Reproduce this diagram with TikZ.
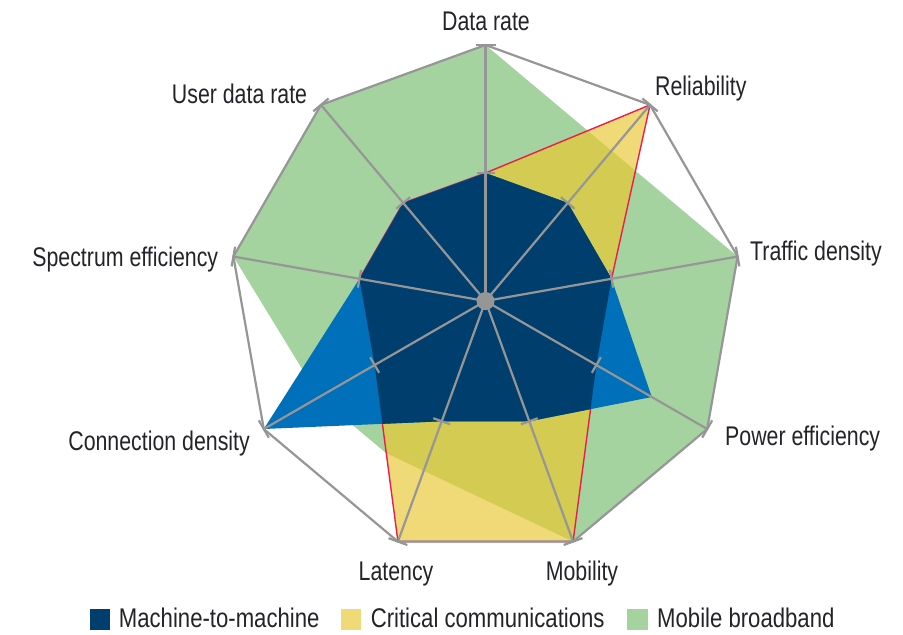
\documentclass[tikz,border=0pt]{standalone}
\usepackage{fontspec}
\setmainfont{Liberation Sans}[FakeStretch=0.79]
\newfontfamily\legfont{Liberation Sans}[FakeStretch=0.82]
\usetikzlibrary{calc}
\definecolor{mbgreen}{RGB}{165,211,160}
\definecolor{ccyellow}{RGB}{240,218,120}
\definecolor{mixolive}{RGB}{212,204,82}
\definecolor{mmnavy}{RGB}{0,62,110}
\definecolor{mmblue}{RGB}{0,112,186}
\definecolor{ccred}{RGB}{232,30,80}
\definecolor{axgray}{RGB}{150,150,150}
\definecolor{txtcol}{RGB}{35,35,40}
\begin{document}
\begin{tikzpicture}[x=1pt,y=-1pt,
  axisline/.style={draw=axgray, line width=2.2pt},
  lbl/.style={inner sep=0pt, text=txtcol, font=\fontsize{27}{32}\selectfont},
  legtext/.style={inner sep=0pt, text=txtcol, font=\legfont\fontsize{27}{32}\selectfont},
  legbox/.style={inner sep=0pt, minimum width=20.3pt, minimum height=21pt}]
\path[use as bounding box] (0,0) rectangle (903,635);
\coordinate (C) at (485.5,301);
\foreach \k/\n in {0/dr,1/rel,2/td,3/pe,4/mob,5/lat,6/cd,7/se,8/udr}{
  \coordinate (\n1) at ($(C)+({40*\k-90}:256)$);
  \coordinate (\n5) at ($(C)+({40*\k-90}:128)$);
}
\coordinate (pe75) at ($(C)+(30:192)$);
\coordinate (cdg) at ($(C)+(150:192)$);
\coordinate (gk) at (386,453);
\def\yellowpath{(dr5) -- (rel1) -- (td5) -- (pe5) -- (mob1) -- (lat1) -- (cd5) -- (se5) -- (udr5) -- cycle}
\def\greenpath{(dr1) -- (td1) -- (pe1) -- (mob1) -- (gk) -- (cdg) -- (se1) -- (udr1) -- cycle}
\def\mmpath{(dr5) -- (rel5) -- (td5) -- (pe75) -- (mob5) -- (lat5) -- (cd1) -- (se5) -- (udr5) -- cycle}
% Mobile broadband
\fill[mbgreen] \greenpath;
% Critical communications
\fill[ccyellow] \yellowpath;
\begin{scope}
  \clip \greenpath;
  \fill[mixolive] \yellowpath;
\end{scope}
\draw[ccred, line width=1.4pt, line join=round] \yellowpath;
% Machine-to-machine
\fill[mmblue] \mmpath;
\begin{scope}
  \clip \yellowpath;
  \fill[mmnavy] \mmpath;
\end{scope}
% frame and axes
\draw[axisline, line join=round] (dr1) -- (rel1) -- (td1) -- (pe1) -- (mob1) -- (lat1) -- (cd1) -- (se1) -- (udr1) -- cycle;
\foreach \n in {dr,rel,td,pe,mob,lat,cd,se,udr}{
  \draw[axisline] (C) -- (\n1);
}
\foreach \k in {0,...,8}{
  \draw[axisline] ($(C)+({40*\k-90}:128)+({40*\k}:9)$) -- ($(C)+({40*\k-90}:128)+({40*\k-180}:9)$);
  \draw[axisline] ($(C)+({40*\k-90}:256)+({40*\k}:10)$) -- ($(C)+({40*\k-90}:256)+({40*\k-180}:10)$);
}
\fill[axgray] (C) circle (9pt);
% labels
\node[lbl, anchor=base] (ldr) at (486,30) {Data rate};
\node[lbl, anchor=base west] (lrel) at (655,95) {Reliability};
\node[lbl, anchor=base west] (ltd) at (750,260) {Traffic density};
\node[lbl, anchor=base west] (lpe) at (725,445) {Power efficiency};
\node[lbl, anchor=base] (lmob) at (582,580) {Mobility};
\node[lbl, anchor=base] (llat) at (396,580) {Latency};
\node[lbl, anchor=base east] (lcd) at (250,450) {Connection density};
\node[lbl, anchor=base east] (lse) at (218.3,266) {Spectrum efficiency};
\node[lbl, anchor=base east] (ludr) at (307.3,103.3) {User data rate};
% legend
\node[legbox, fill=mmnavy] (b1) at (99.8,619.5) {};
\node[legtext, anchor=base west] (t1) at (118.7,627.5) {Machine-to-machine};
\node[legbox, fill=ccyellow] (b2) at (350.8,619.5) {};
\node[legtext, anchor=base west] (t2) at (370.6,627.5) {Critical communications};
\node[legbox, fill=mbgreen] (b3) at (637.5,619.5) {};
\node[legtext, anchor=base west] (t3) at (657,627.5) {Mobile broadband};
\end{tikzpicture}
\end{document}
